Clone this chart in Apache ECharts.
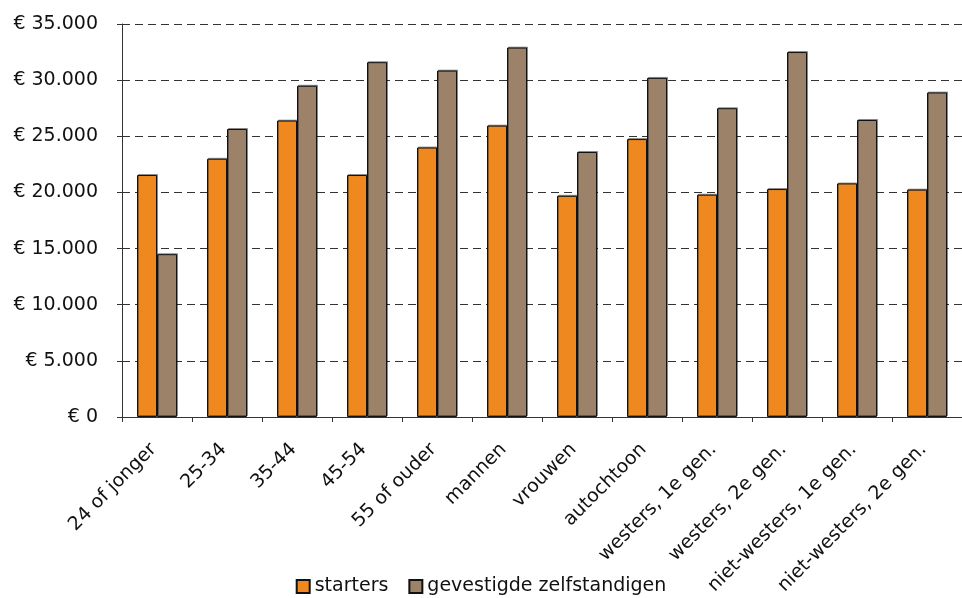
<!DOCTYPE html>
<html>
<head>
<meta charset="utf-8">
<script src="https://cdn.jsdelivr.net/npm/echarts@6/dist/echarts.min.js"></script>
<style>
  html, body { margin: 0; padding: 0; background: #fff; }
  #chart { width: 962px; height: 598px; }
</style>
</head>
<body>
<div id="chart"></div>
<script>
// Categories along the x axis
const categories = [
  '24 of jonger', '25-34', '35-44', '45-54', '55 of ouder',
  'mannen', 'vrouwen', 'autochtoon',
  'westers, 1e gen.', 'westers, 2e gen.',
  'niet-westers, 1e gen.', 'niet-westers, 2e gen.'
];

// Average income (euro) per group
const starters = [21550, 23000, 26400, 21550, 24000, 25950, 19700, 24750, 19800, 20300, 20800, 20250];
const gevestigden = [14500, 25650, 29500, 31600, 30850, 32900, 23600, 30200, 27500, 32500, 26450, 28900];

const seriesNames = ['starters', 'gevestigde zelfstandigen'];

// y-axis range
const yMin = 0;
const yMax = 35000;
const yStep = 5000;

const fmtEuro = v => '€ ' + String(v).replace(/\B(?=(\d{3})+(?!\d))/g, '.');

const font = 'DejaVu Sans';
const chart = echarts.init(document.getElementById('chart'), null, { renderer: 'canvas' });

const barStyle = color => ({
  color: color,
  borderColor: '#111',
  borderWidth: 1,
  shadowColor: 'rgba(0,0,0,0.35)',
  shadowBlur: 0,
  shadowOffsetX: 1,
  shadowOffsetY: -1
});

chart.setOption({
  animation: false,
  backgroundColor: '#fff',
  textStyle: { fontFamily: font, color: '#111' },
  grid: { left: 122, right: 0, top: 24, bottom: 181, containLabel: false },
  legend: {
    bottom: -3,
    left: 'center',
    itemWidth: 13,
    itemHeight: 13,
    itemGap: 20,
    icon: 'rect',
    textStyle: { fontFamily: font, fontSize: 19, color: '#111' },
    data: seriesNames
  },
  xAxis: {
    type: 'category',
    data: categories,
    axisLine: { lineStyle: { color: '#333', width: 1 } },
    axisTick: { show: true, length: 5, alignWithLabel: false, lineStyle: { color: '#333' } },
    axisLabel: {
      rotate: 45,
      interval: 0,
      margin: 26,
      padding: [0, 5, 0, 0],
      fontFamily: font,
      fontSize: 19,
      color: '#111'
    }
  },
  yAxis: {
    type: 'value',
    min: yMin,
    max: yMax,
    interval: yStep,
    axisLine: { show: true, lineStyle: { color: '#333', width: 1 } },
    axisTick: { show: true, length: 5, lineStyle: { color: '#333' } },
    axisLabel: {
      margin: 24,
      padding: [4, 0, 0, 0],
      fontFamily: font,
      fontSize: 19,
      color: '#111',
      formatter: fmtEuro
    },
    splitLine: {
      show: true,
      lineStyle: { color: '#333', width: 1, type: [8, 5] }
    }
  },
  series: [
    {
      name: seriesNames[0],
      type: 'bar',
      data: starters,
      barWidth: 20,
      barGap: '0%',
      itemStyle: barStyle('#EF891F')
    },
    {
      name: seriesNames[1],
      type: 'bar',
      data: gevestigden,
      barWidth: 20,
      barGap: '0%',
      itemStyle: barStyle('#9B8269')
    }
  ]
});
</script>
</body>
</html>
